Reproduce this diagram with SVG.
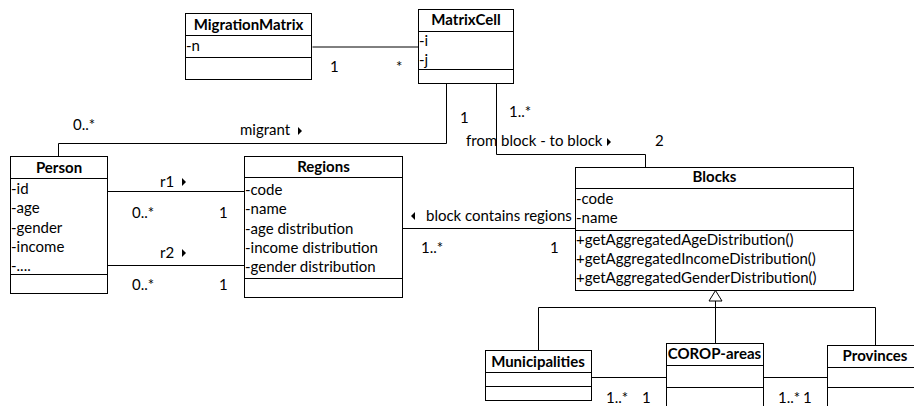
<svg xmlns="http://www.w3.org/2000/svg" width="914" height="406" viewBox="0 0 914 406">
<style>
text{font-family:Lato,"Liberation Sans",sans-serif;font-size:15px;fill:#000}
.h{font-weight:bold;text-anchor:middle}
.box{fill:#fff;stroke:#000;stroke-width:1}
.ln{fill:none;stroke:#000;stroke-width:1}
.tri{fill:#000}
</style>
<rect width="914" height="406" fill="#fff"/>
<g id="connectors">
<polyline class="ln" points="312.5,47 418.5,47"/>
<polyline class="ln" points="446.5,83 446.5,143.5 58.5,143.5 58.5,156"/>
<polyline class="ln" points="496.5,83 496.5,154.5 645.5,154.5 645.5,167"/>
<polyline class="ln" points="107,191.5 244,191.5"/>
<polyline class="ln" points="107,265.5 244,265.5"/>
<polyline class="ln" points="402,228.5 575,228.5"/>
<polygon points="715.5,290.5 709,301 722,301" fill="#fff" stroke="#000"/>
<polyline class="ln" points="715.5,301 715.5,343"/>
<polyline class="ln" points="538.5,350 538.5,307.5 875.5,307.5 875.5,345"/>
<polyline class="ln" points="591,377.5 666,377.5"/>
<polyline class="ln" points="763,377.5 827,377.5"/>
<text x="330" y="72">1</text>
<text x="396" y="72">*</text>
<text x="460" y="123">1</text>
<text x="509" y="117">1..*</text>
<text x="73" y="130">0..*</text>
<text x="240" y="135">migrant</text>
<polygon class="tri" points="298,127 302,131 298,135"/>
<text x="466" y="146">from block - to block</text>
<polygon class="tri" points="607,138 611,142 607,146"/>
<text x="655" y="146">2</text>
<text x="160" y="187">r1</text>
<polygon class="tri" points="182,178 186,182 182,186"/>
<text x="132" y="218">0..*</text>
<text x="219" y="218">1</text>
<text x="160" y="258">r2</text>
<polygon class="tri" points="182,249 186,253 182,257"/>
<text x="132" y="290">0..*</text>
<text x="219" y="290">1</text>
<polygon class="tri" points="415,212 411,216 415,220"/>
<text x="426" y="221">block contains regions</text>
<text x="421" y="253">1..*</text>
<text x="550" y="253">1</text>
<text x="606" y="403">1..*</text>
<text x="642" y="403">1</text>
<text x="778" y="403">1..*</text>
<text x="803" y="403">1</text>
</g>
<g id="MigrationMatrix">
<rect class="box" x="185.5" y="13.5" width="126" height="66"/>
<line class="ln" x1="185.5" y1="35.5" x2="311.5" y2="35.5"/>
<line class="ln" x1="185.5" y1="57.5" x2="311.5" y2="57.5"/>
<text class="h" x="248.5" y="30">MigrationMatrix</text>
<text x="186" y="51">-n</text>
</g>
<g id="MatrixCell">
<rect class="box" x="418.5" y="9.5" width="95" height="74"/>
<line class="ln" x1="418.5" y1="31.5" x2="513.5" y2="31.5"/>
<line class="ln" x1="418.5" y1="69.5" x2="513.5" y2="69.5"/>
<text class="h" x="466" y="25">MatrixCell</text>
<text x="419" y="46">-i</text>
<text x="419" y="65">-j</text>
</g>
<g id="Person">
<rect class="box" x="10.5" y="156.5" width="97" height="137"/>
<line class="ln" x1="10.5" y1="178.5" x2="107.5" y2="178.5"/>
<line class="ln" x1="10.5" y1="274.5" x2="107.5" y2="274.5"/>
<text class="h" x="59" y="173">Person</text>
<text x="11" y="194">-id</text>
<text x="11" y="213">-age</text>
<text x="11" y="233">-gender</text>
<text x="11" y="252">-income</text>
<text x="11" y="271">-....</text>
</g>
<g id="Regions">
<rect class="box" x="244.5" y="156.5" width="158" height="141"/>
<line class="ln" x1="244.5" y1="177.5" x2="402.5" y2="177.5"/>
<line class="ln" x1="244.5" y1="278.5" x2="402.5" y2="278.5"/>
<text class="h" x="323.5" y="172">Regions</text>
<text x="245" y="195">-code</text>
<text x="245" y="214">-name</text>
<text x="245" y="234">-age distribution</text>
<text x="245" y="253">-income distribution</text>
<text x="245" y="272">-gender distribution</text>
</g>
<g id="Blocks">
<rect class="box" x="575.5" y="167.5" width="278" height="123"/>
<line class="ln" x1="575.5" y1="188.5" x2="853.5" y2="188.5"/>
<line class="ln" x1="575.5" y1="230.5" x2="853.5" y2="230.5"/>
<text class="h" x="714.5" y="182">Blocks</text>
<text x="576" y="204">-code</text>
<text x="576" y="223">-name</text>
<text x="576" y="245">+getAggregatedAgeDistribution()</text>
<text x="576" y="264">+getAggregatedIncomeDistribution()</text>
<text x="576" y="283">+getAggregatedGenderDistribution()</text>
</g>
<g id="Municipalities">
<rect class="box" x="485.5" y="350.5" width="106" height="50"/>
<line class="ln" x1="485.5" y1="372.5" x2="591.5" y2="372.5"/>
<line class="ln" x1="485.5" y1="386.5" x2="591.5" y2="386.5"/>
<text class="h" x="538" y="367">Municipalities</text>
</g>
<g id="COROP-areas">
<rect class="box" x="666.5" y="343.5" width="97" height="70"/>
<line class="ln" x1="666.5" y1="365.5" x2="763.5" y2="365.5"/>
<line class="ln" x1="666.5" y1="387.5" x2="763.5" y2="387.5"/>
<text class="h" x="714.5" y="359">COROP-areas</text>
</g>
<g id="Provinces">
<rect class="box" x="827.5" y="345.5" width="100" height="70"/>
<line class="ln" x1="827.5" y1="367.5" x2="927.5" y2="367.5"/>
<line class="ln" x1="827.5" y1="387.5" x2="927.5" y2="387.5"/>
<text class="h" x="875" y="361">Provinces</text>
</g>
</svg>
